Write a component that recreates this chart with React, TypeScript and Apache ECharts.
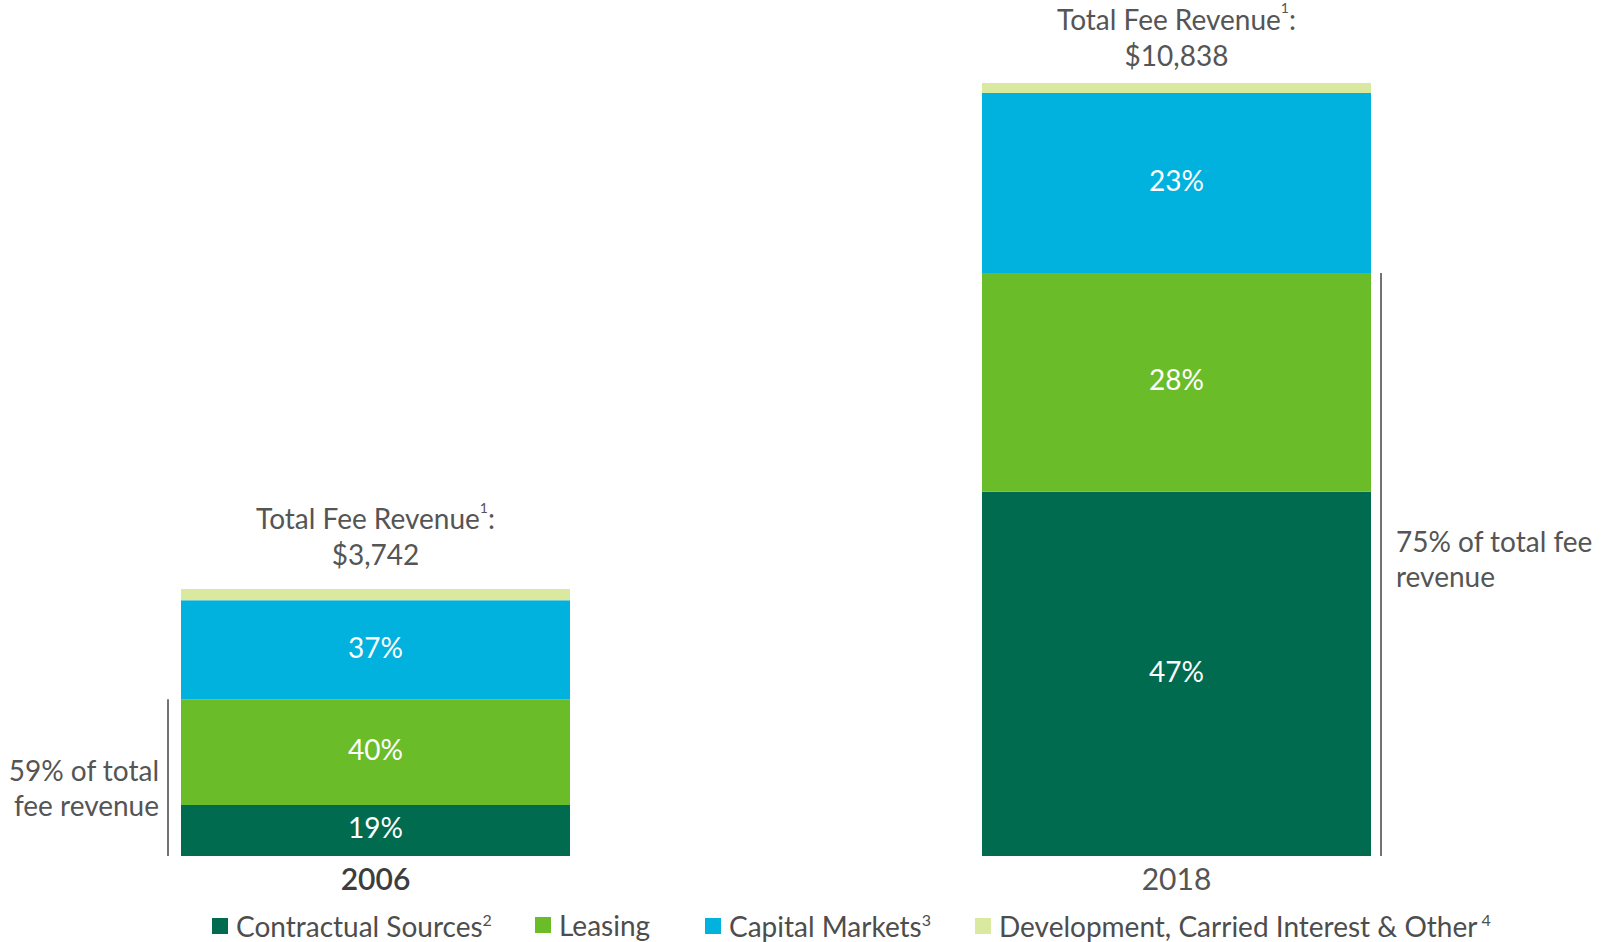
import React, { useEffect, useRef } from "react";
import * as echarts from "echarts";

const categories = ["2006", "2018"];
const seriesNames = [
  "Contractual Sources",
  "Leasing",
  "Capital Markets",
  "Development, Carried Interest & Other",
];
const legendFootnotes = ["2", "", "3", "4"];
const contractual = [715, 5105];
const leasing = [1482, 3067];
const capitalMarkets = [1388, 2525];
const otherFees = [157, 141];
const totals = [3742, 10838];
const bracketNotes = ["59% of total\nfee revenue", "75% of total fee\nrevenue"];

const COLORS = ["#006b4e", "#6abd28", "#00b2dd", "#d9e99f"];
const FONT = "Lato, 'Open Sans', sans-serif";
const TEXT = "#555555";
const BAR_W = 389;

export default function App() {
  const ref = useRef<HTMLDivElement>(null);

  useEffect(() => {
    document.body.style.margin = "0";
    if (!ref.current) return;
    const chart = echarts.init(ref.current, undefined, { renderer: "svg" });
    const seriesData = [contractual, leasing, capitalMarkets, otherFees];

    const pctLabel = {
      show: true,
      position: "inside",
      offset: [0, -3],
      color: "#ffffff",
      fontSize: 28,
      fontFamily: FONT,
      formatter: (p: any) =>
        `${Math.round((p.value / totals[p.dataIndex]) * 100)}%`,
    };

    const totalDistances = [17, 10];

    const series = seriesData.map((arr, si) => ({
      name: seriesNames[si],
      type: "bar",
      stack: "total",
      barWidth: BAR_W,
      clip: false,
      itemStyle: { color: COLORS[si] },
      label:
        si < 3
          ? pctLabel
          : {
              show: true,
              position: "top",
              formatter: (p: any) =>
                `{a|Total Fee Revenue}{s|1}{a|:}\n{a|$${totals[p.dataIndex].toLocaleString("en-US")}}`,
              rich: {
                a: { fontSize: 28, color: TEXT, fontFamily: FONT, lineHeight: 36 },
                s: {
                  fontSize: 14,
                  color: TEXT,
                  fontFamily: FONT,
                  lineHeight: 22,
                  verticalAlign: "top",
                },
              },
            },
      data: arr.map((v, i) =>
        si < 3 ? v : { value: v, label: { distance: totalDistances[i] } }
      ),
    }));

    const legendLefts = [212, 535, 705, 975];
    const legends = seriesNames.map((n, i) => ({
      data: [n],
      left: legendLefts[i],
      top: 911,
      padding: 0,
      icon: "rect",
      itemWidth: 16,
      itemHeight: 16,
      selectedMode: false,
      formatter: (name: string) =>
        `{t|${name}}` + (legendFootnotes[i] ? `{s${i === 3 ? "w" : ""}|${legendFootnotes[i]}}` : ""),
      textStyle: {
        rich: {
          t: { fontSize: 28, color: "#4d4d4d", fontFamily: FONT, lineHeight: 30, padding: [0, 0, 0, 3] },
          s: { fontSize: 16, color: "#4d4d4d", fontFamily: FONT, lineHeight: 20, verticalAlign: "top" },
          sw: { fontSize: 16, color: "#4d4d4d", fontFamily: FONT, lineHeight: 20, verticalAlign: "top", padding: [0, 0, 0, 4] },
        },
      },
    }));

    chart.setOption({
      animation: false,
      backgroundColor: "#ffffff",
      grid: { left: 375.5, right: 428.5, top: 0, bottom: 86, containLabel: false },
      xAxis: {
        type: "category",
        data: categories,
        boundaryGap: false,
        axisLine: { show: false },
        axisTick: { show: false },
        splitLine: { show: false },
        axisLabel: {
          margin: 7,
          formatter: (v: string, i: number) => (i === 0 ? `{b|${v}}` : `{n|${v}}`),
          rich: {
            b: { fontSize: 30, fontWeight: 600, color: "#3d3d3d", fontFamily: FONT, lineHeight: 30 },
            n: { fontSize: 30, color: TEXT, fontFamily: FONT, lineHeight: 30 },
          },
        },
      },
      yAxis: { type: "value", min: 0, max: 12000, show: false, splitLine: { show: false } },
      legend: legends,
      series,
    });

    // bracket annotations computed from data
    const graphics: any[] = [];
    categories.forEach((_, i) => {
      const top = chart.convertToPixel({ xAxisIndex: 0, yAxisIndex: 0 }, [i, contractual[i] + leasing[i]]) as number[];
      const base = chart.convertToPixel({ xAxisIndex: 0, yAxisIndex: 0 }, [i, 0]) as number[];
      const cx = top[0];
      const lineX = i === 0 ? cx - BAR_W / 2 - 13 : cx + BAR_W / 2 + 10;
      const mid = (top[1] + base[1]) / 2;
      graphics.push({
        type: "line",
        shape: { x1: lineX, y1: top[1], x2: lineX, y2: base[1] },
        style: { stroke: "#444444", lineWidth: 1.5 },
      });
      graphics.push({
        type: "text",
        x: i === 0 ? lineX - 9 : lineX + 15,
        y: i === 0 ? mid + 10 : mid - 6,
        style: {
          text: bracketNotes[i],
          fontSize: 28,
          fontFamily: FONT,
          fill: TEXT,
          lineHeight: 35,
          align: i === 0 ? "right" : "left",
          verticalAlign: "middle",
        },
      });
    });
    chart.setOption({ graphic: graphics });

    return () => chart.dispose();
  }, []);

  return <div ref={ref} style={{ width: 1605, height: 942 }} />;
}
